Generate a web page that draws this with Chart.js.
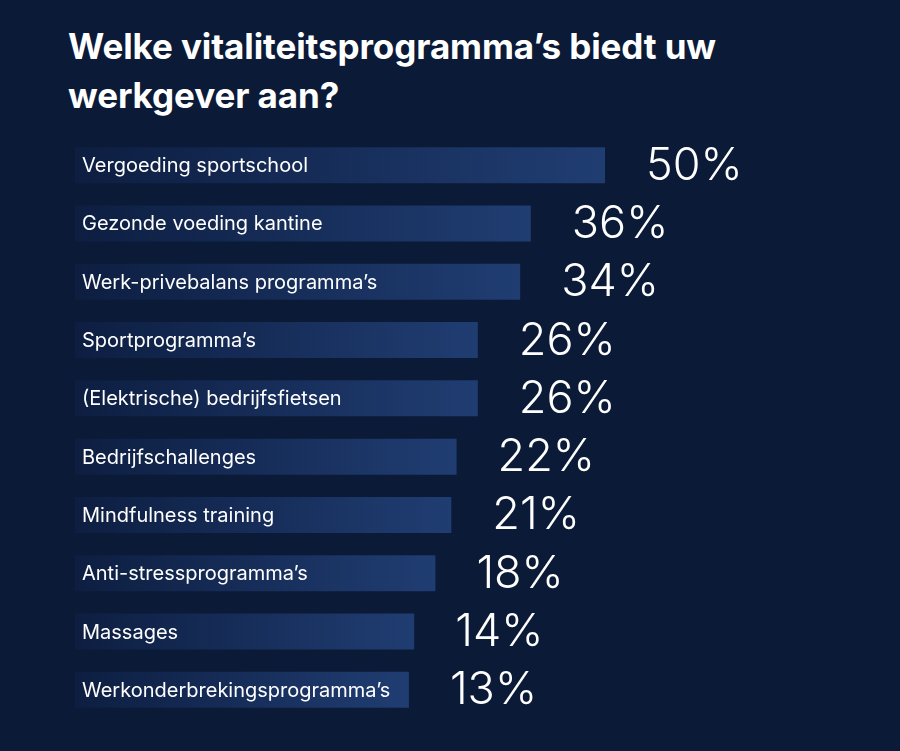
<!DOCTYPE html>
<html>
<head>
<meta charset="utf-8">
<script src="https://cdn.jsdelivr.net/npm/chart.js@4"></script>
<style>
    html, body { margin: 0; padding: 0; background: #0b1a37; width: 900px; height: 751px; overflow: hidden; }
    .title { position: absolute; left: 68px; top: 22px; color: #fff; font-family: Inter, 'Open Sans', sans-serif; font-weight: 700; font-size: 35px; line-height: 49px; letter-spacing: -0.1px; margin: 0; }
    .wrap { position: absolute; left: 0; top: 0; width: 900px; height: 751px; }
</style>
</head>
<body>
<h1 class="title">Welke vitaliteitsprogramma’s biedt uw<br>werkgever aan?</h1>
<div class="wrap"><canvas id="chart"></canvas></div>
<script>
const categories = [
    "Vergoeding sportschool",
    "Gezonde voeding kantine",
    "Werk-privebalans programma’s",
    "Sportprogramma’s",
    "(Elektrische) bedrijfsfietsen",
    "Bedrijfschallenges",
    "Mindfulness training",
    "Anti-stressprogramma’s",
    "Massages",
    "Werkonderbrekingsprogramma’s"
];
const percentages = [50, 36, 34, 26, 26, 22, 21, 18, 14, 13];

// --- bar gradient, dark at the left edge, lighter blue at the end ---
function barFill(context) {
    const chart = context.chart;
    const x = chart.scales.x;
    if (!chart.chartArea || !x) return '#1d386b';
    const x0 = x.getPixelForValue(-50);
    const x1 = x.getPixelForValue(context.raw);
    const g = chart.ctx.createLinearGradient(x0, 0, x1, 0);
    g.addColorStop(0, '#0d1e41');
    g.addColorStop(1, '#203d72');
    return g;
}

// --- labels: category inside the bar, percentage after it ---
const barLabels = {
    id: 'barLabels',
    afterDatasetsDraw(chart) {
        const ctx = chart.ctx;
        const meta = chart.getDatasetMeta(0);
        ctx.save();
        ctx.fillStyle = '#ffffff';
        ctx.textBaseline = 'middle';
        meta.data.forEach((bar, i) => {
            ctx.textAlign = 'left';
            ctx.font = '400 20px Inter, "Open Sans", sans-serif';
            ctx.fillText(categories[i], 82, bar.y + 1);
            ctx.font = '300 45px Inter, Lato, sans-serif';
            ctx.fillText(percentages[i] + '%', bar.x + 41, bar.y + 1);
        });
        ctx.restore();
    }
};

new Chart(document.getElementById('chart'), {
    type: 'bar',
    data: {
        labels: categories,
        datasets: [{
            data: percentages,
            base: -50,
            backgroundColor: barFill,
            borderWidth: 0,
            borderSkipped: false,
            barPercentage: 0.617,
            categoryPercentage: 1
        }]
    },
    options: {
        indexAxis: 'y',
        responsive: true,
        maintainAspectRatio: false,
        animation: false,
        layout: { padding: { left: 75, right: 30, top: 136, bottom: 32 } },
        scales: {
            x: { display: false, min: -50, max: 100 },
            y: { display: false }
        },
        plugins: { legend: { display: false }, tooltip: { enabled: false } }
    },
    plugins: [barLabels]
});
</script>
</body>
</html>
